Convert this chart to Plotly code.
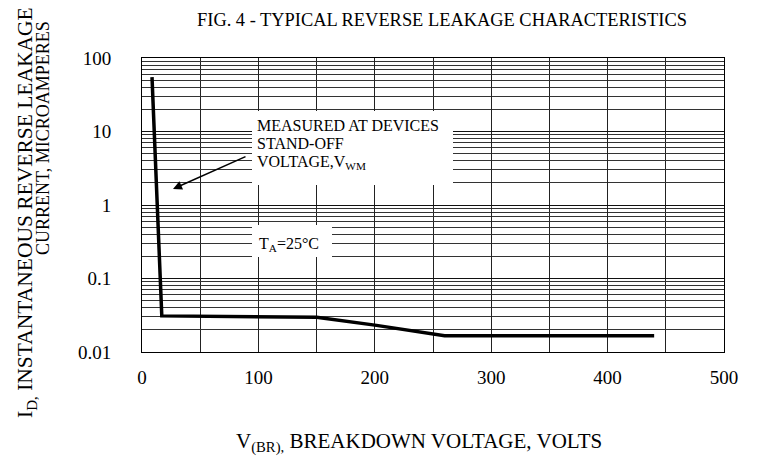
import plotly.graph_objects as go

# Data
voltage = [8.6, 17, 150, 200, 260, 440]
current = [55, 0.031, 0.0296, 0.0232, 0.0167, 0.0167]

x_ticks = [0, 100, 200, 300, 400, 500]
x_tick_text = ["0", "100", "200", "300", "400", "500"]
y_ticks = [0.01, 0.1, 1, 10, 100]
y_tick_text = ["0.01", "0.1", "1", "10", "100"]

FONT = "Liberation Serif, Times New Roman, serif"

fig = go.Figure()
fig.add_trace(go.Scatter(x=voltage, y=current, mode="lines",
                         line=dict(color="black", width=3.5),
                         showlegend=False, hoverinfo="skip"))

L, R, T, B = 142, 724, 58, 352
W, H = 760, 456

def px(x):
    return (x - L) / (R - L)

def py(y):
    return (B - y) / (B - T)

# white boxes behind the text labels
fig.add_shape(type="rect", xref="paper", yref="paper",
              x0=px(252), x1=px(453), y0=py(185), y1=py(111),
              fillcolor="white", line=dict(width=0), layer="above")
fig.add_shape(type="rect", xref="paper", yref="paper",
              x0=px(252), x1=px(332), y0=py(257), y1=py(225),
              fillcolor="white", line=dict(width=0), layer="above")

box_lines = ["MEASURED AT DEVICES", "STAND-OFF", "VOLTAGE,V<sub>WM</sub>"]
box_y = [125, 143.5, 162]
for t, yy in zip(box_lines, box_y):
    fig.add_annotation(xref="paper", yref="paper", x=px(255), y=py(yy),
                       text=t, showarrow=False, xanchor="left", yanchor="middle",
                       font=dict(family=FONT, size=16, color="black"))

fig.add_annotation(xref="paper", yref="paper", x=px(257), y=py(244),
                   text="T<sub>A</sub>=25\u00b0C", showarrow=False,
                   xanchor="left", yanchor="middle",
                   font=dict(family=FONT, size=16, color="black"))

# arrow
fig.add_annotation(xref="paper", yref="paper", x=px(173), y=py(189),
                   ax=247 - 173, ay=156 - 189, axref="pixel", ayref="pixel",
                   text="", showarrow=True, arrowhead=2, arrowsize=1.2,
                   arrowwidth=1.5, arrowcolor="black")

# axis titles
fig.add_annotation(xref="paper", yref="paper", x=px(26), y=py(213),
                   text="I<sub>D,</sub> INSTANTANEOUS REVERSE LEAKAGE",
                   textangle=-90, showarrow=False, xanchor="center", yanchor="middle",
                   font=dict(family=FONT, size=21.5, color="black"))
fig.add_annotation(xref="paper", yref="paper", x=px(43), y=py(138),
                   text="CURRENT, MICROAMPERES",
                   textangle=-90, showarrow=False, xanchor="center", yanchor="middle",
                   font=dict(family=FONT, size=18, color="black"))
fig.add_annotation(xref="paper", yref="paper", x=px(419), y=py(442),
                   text="V<sub>(BR),</sub> BREAKDOWN VOLTAGE, VOLTS",
                   showarrow=False, xanchor="center", yanchor="middle",
                   font=dict(family=FONT, size=21, color="black"))

fig.update_layout(
    width=W, height=H,
    margin=dict(l=L, r=W - R, t=T, b=H - B, autoexpand=False),
    paper_bgcolor="white", plot_bgcolor="white",
    title=dict(text="FIG. 4 - TYPICAL REVERSE LEAKAGE CHARACTERISTICS",
               x=442 / W, xref="container", xanchor="center",
               y=1 - 20 / H, yref="container", yanchor="middle",
               font=dict(family=FONT, size=18.4, color="black")),
    font=dict(family=FONT, color="black"),
)

fig.update_xaxes(range=[0, 500], tickvals=x_ticks, ticktext=x_tick_text,
                 showgrid=True, gridcolor="#222", gridwidth=1,
                 minor=dict(dtick=50, showgrid=True, gridcolor="#222", gridwidth=1),
                 showline=True, linecolor="black", linewidth=1, mirror=True,
                 ticks="", ticklabelstandoff=8, zeroline=False,
                 tickfont=dict(family=FONT, size=19, color="black"))
fig.update_yaxes(type="log", range=[-2, 2], tickvals=y_ticks, ticktext=y_tick_text,
                 showgrid=True, gridcolor="#111", gridwidth=1.2,
                 minor=dict(dtick="D1", showgrid=True, gridcolor="#333", gridwidth=1),
                 showline=True, linecolor="black", linewidth=1, mirror=True,
                 ticks="", ticklabelstandoff=26, zeroline=False,
                 tickfont=dict(family=FONT, size=19, color="black"))

fig.write_html("out.html", config={"displayModeBar": False},
               post_script="document.body.style.margin='0';")
